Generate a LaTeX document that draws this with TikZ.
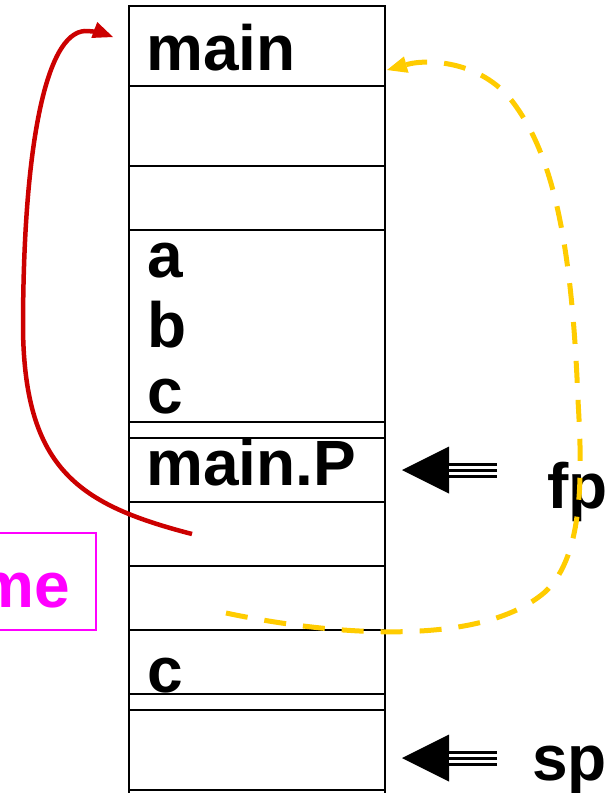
\documentclass[tikz,border=0pt]{standalone}
\usepackage{fontspec}
\setmainfont{Liberation Sans}
\usetikzlibrary{arrows.meta}
\definecolor{linkred}{HTML}{CC0000}
\definecolor{linkyellow}{HTML}{FFCC00}
\definecolor{framemagenta}{HTML}{FF00FF}

\begin{document}
\begin{tikzpicture}[x=1pt,y=-1pt,
    slot/.style={draw,line width=2.7pt,minimum width=256pt,inner sep=0pt,
        outer sep=0pt,anchor=north west},
    lbl/.style={font=\fontsize{64}{72}\selectfont\bfseries,inner sep=0pt,
        anchor=base west},
    framebox/.style={draw=framemagenta,text=framemagenta,line width=1.5pt,
        font=\fontsize{64}{72}\selectfont\bfseries,inner xsep=26pt,inner ysep=0pt,
        text height=74pt,text depth=23pt,outer sep=0pt,anchor=base east},
    ptr/.style={line width=15pt,-{Triangle[length=47pt,width=47pt,line width=0pt]},
        postaction={draw=white,line width=9pt,shorten >=47pt,-},
        postaction={draw=black,line width=3pt,shorten >=47pt,-}},
    retlink/.style={draw=linkred,line width=4.5pt,
        -{Triangle[length=20pt,width=17pt,line width=0pt]}},
    fplink/.style={draw=linkyellow,line width=5pt,dash pattern=on 22pt off 17pt,
        -{Triangle[length=20pt,width=17pt,line width=0pt]}}
]
    \useasboundingbox (0,0) rectangle (612,793);
    \clip (0,0) rectangle (612,793);

    \node[slot,minimum height=80pt] (s1) at (129,6) {};
    \node[slot,minimum height=80pt] (s2) at (s1.south west) {};
    \node[slot,minimum height=64pt] (s3) at (s2.south west) {};
    \node[slot,minimum height=192pt] (s4) at (s3.south west) {};
    \node[slot,minimum height=16pt] (s5) at (s4.south west) {};
    \node[slot,minimum height=64pt] (s6) at (s5.south west) {};
    \node[slot,minimum height=64pt] (s7) at (s6.south west) {};
    \node[slot,minimum height=64pt] (s8) at (s7.south west) {};
    \node[slot,minimum height=64pt] (s9) at (s8.south west) {};
    \node[slot,minimum height=16pt] (s10) at (s9.south west) {};
    \node[slot,minimum height=80pt] (s11) at (s10.south west) {};
    \node[slot,minimum height=40pt] (s12) at (s11.south west) {};

    \node[lbl] (lmain) at (146,70) {main};
    \node[lbl] (la) at (147,277) {a};
    \node[lbl] (lb) at (147,347) {b};
    \node[lbl] (lc) at (147,413) {c};
    \node[lbl] (lmainp) at (146,485) {main.P};
    \node[lbl] (lc2) at (147,692) {c};

    \node[lbl] (fp) at (547,508) {fp};
    \node[lbl] (sp) at (532,780) {sp};
    \node[framebox] (frame) at (96,607) {me};

    \coordinate (fptail) at (497,470);
    \coordinate (fptip) at (402,470);
    \coordinate (sptail) at (497,758);
    \coordinate (sptip) at (402,758);
    \draw[ptr] (fptail) -- (fptip);
    \draw[ptr] (sptail) -- (sptip);

    \coordinate (retfrom) at (192,534);
    \coordinate (retto) at (113,37);
    \draw[retlink] (retfrom) .. controls (80,505) and (25,470) .. (23,330)
        .. controls (23,150) and (45,33) .. (85,31)
        .. controls (95,31) and (105,34) .. (retto);

    \coordinate (oldfp) at (226,613);
    \coordinate (oldfpto) at (387,70);
    \draw[fplink] (oldfp) .. controls (330,635) and (480,648) .. (545,592)
        .. controls (585,555) and (582,470) .. (578,400)
        .. controls (572,250) and (555,160) .. (515,105)
        .. controls (485,62) and (430,58) .. (oldfpto);
\end{tikzpicture}
\end{document}
